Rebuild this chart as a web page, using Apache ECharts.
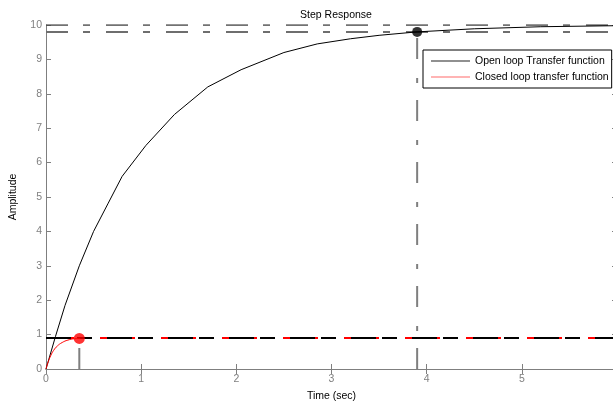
<!DOCTYPE html>
<html>
<head>
<meta charset="utf-8">
<script src="https://cdn.jsdelivr.net/npm/echarts@6/dist/echarts.min.js"></script>
<style>
  html, body { margin: 0; padding: 0; background: #fff; }
  #chart { width: 613px; height: 404px; }
</style>
</head>
<body>
<div id="chart"></div>
<script>
// open loop response
const openT = [0, 0.1, 0.2, 0.35, 0.5, 0.65, 0.8, 1.05, 1.35, 1.7, 2.05, 2.5, 2.85, 3.2, 3.5, 3.9, 4.5, 5.2, 6];
const openY = [0, 0.95, 1.85, 3.0, 4.0, 4.8, 5.6, 6.5, 7.4, 8.2, 8.7, 9.2, 9.45, 9.6, 9.7, 9.8, 9.89, 9.95, 9.98];

// closed loop response
const closedT = [0, 0.02, 0.05, 0.08, 0.12, 0.17, 0.23, 0.3, 0.36];
const closedY = [0, 0.18, 0.39, 0.54, 0.67, 0.77, 0.84, 0.88, 0.89];

// settling / steady-state markers
const openSettle = [3.9, 9.8];
const closedSettle = [0.35, 0.89];
const openFinal = 10;
const closedFinal = 0.9;

const xTicks = [0, 1, 2, 3, 4, 5, 6];
const yTicks = [0, 1, 2, 3, 4, 5, 6, 7, 8, 9, 10];

const gray = "#7f7f7f";
const font = "Liberation Sans";
const tickFont = { color: "#808080", fontSize: 10.5, fontFamily: font };

function pairs(xs, ys) {
  return xs.map((x, i) => [x, ys[i]]);
}

function auxLine(data, color, width, type, offset) {
  return {
    type: "line",
    data: data,
    symbol: "none",
    silent: true,
    lineStyle: { color: color, width: width, type: type, dashOffset: offset || 0 },
    z: 1,
  };
}

const chart = echarts.init(document.getElementById("chart"));
const xMin = xTicks[0];
const xMax = xTicks[xTicks.length - 1];
const tick = { show: true, inside: true, length: 5, lineStyle: { color: gray } };

chart.setOption({
  animation: false,
  title: {
    text: "Step Response",
    left: 331,
    top: 5,
    textAlign: "center",
    textStyle: { fontSize: 10.5, fontWeight: "normal", color: "#000", fontFamily: font },
  },
  legend: {
    data: [
      { name: "Open loop Transfer function", itemStyle: { color: "#222" } },
      { name: "Closed loop transfer function", itemStyle: { color: "#ff6a6a" } },
    ],
    orient: "vertical",
    icon: "rect",
    left: 423,
    top: 50,
    padding: [4, 3, 4, 8],
    itemGap: 2,
    itemWidth: 39,
    itemHeight: 1,
    borderColor: "#000",
    borderWidth: 1,
    borderRadius: 0,
    backgroundColor: "#fff",
    textStyle: { fontSize: 10.5, color: "#000", fontFamily: font, lineHeight: 14 },
  },
  grid: { left: 46, right: -4, top: 25, bottom: 35, containLabel: false, outerBoundsMode: "none" },
  xAxis: [
    {
      type: "value",
      min: xMin,
      max: xMax,
      interval: 1,
      name: "Time (sec)",
      nameLocation: "middle",
      nameGap: 22,
      nameTextStyle: { fontSize: 10.5, color: "#000", fontFamily: font },
      axisLine: { lineStyle: { color: gray } },
      axisTick: tick,
      axisLabel: Object.assign({ margin: 5, showMaxLabel: false }, tickFont),
      splitLine: { show: false },
    },
    {
      type: "value",
      position: "top",
      min: xMin,
      max: xMax,
      interval: 1,
      axisLine: { lineStyle: { color: gray } },
      axisTick: tick,
      axisLabel: { show: false },
      splitLine: { show: false },
    },
  ],
  yAxis: [
    {
      type: "value",
      position: "left",
      min: yTicks[0],
      max: yTicks[yTicks.length - 1],
      interval: 1,
      name: "Amplitude",
      nameLocation: "middle",
      nameGap: 27,
      nameTextStyle: { fontSize: 10.5, color: "#000", fontFamily: font },
      axisLine: { show: true, onZero: false, lineStyle: { color: gray } },
      axisTick: tick,
      axisLabel: Object.assign({ margin: 4 }, tickFont),
      splitLine: { show: false },
    },
    {
      type: "value",
      position: "right",
      min: yTicks[0],
      max: yTicks[yTicks.length - 1],
      interval: 1,
      axisLine: { show: true, onZero: false, lineStyle: { color: gray } },
      axisTick: tick,
      axisLabel: { show: false },
      splitLine: { show: false },
    },
  ],
  series: [
    auxLine([[xMin, openFinal], [xMax, openFinal]], "#444", 1.5, [22, 15, 7, 16]),
    auxLine([[xMin, openSettle[1]], [xMax, openSettle[1]]], "#6e6e6e", 2, [22, 15, 7, 16]),
    auxLine([[openSettle[0], 0], openSettle], gray, 2, [21, 17, 5, 19]),
    auxLine([[closedSettle[0], 0], closedSettle], gray, 2, [21, 17, 5, 19]),
    auxLine([[xMin, closedFinal], [xMax, closedFinal]], "#000", 2, [25, 6, 15, 15]),
    auxLine([[xMin, closedFinal], [xMax, closedFinal]], "#ff0000", 2, [3, 26, 7, 25], 36),
    {
      name: "Open loop Transfer function",
      type: "line",
      data: pairs(openT, openY),
      symbol: "none",
      lineStyle: { color: "#000", width: 1 },
      itemStyle: { color: "#000" },
      z: 3,
    },
    {
      name: "Closed loop transfer function",
      type: "line",
      data: pairs(closedT, closedY),
      symbol: "none",
      smooth: true,
      lineStyle: { color: "#ff0000", width: 1 },
      itemStyle: { color: "#ff0000" },
      z: 3,
    },
    {
      type: "scatter",
      data: [openSettle],
      symbolSize: 10,
      itemStyle: { color: "#000" },
      silent: true,
      z: 4,
    },
    {
      type: "scatter",
      data: [closedSettle],
      symbolSize: 11,
      itemStyle: { color: "#ff0000" },
      silent: true,
      z: 4,
    },
  ],
});
</script>
</body>
</html>
